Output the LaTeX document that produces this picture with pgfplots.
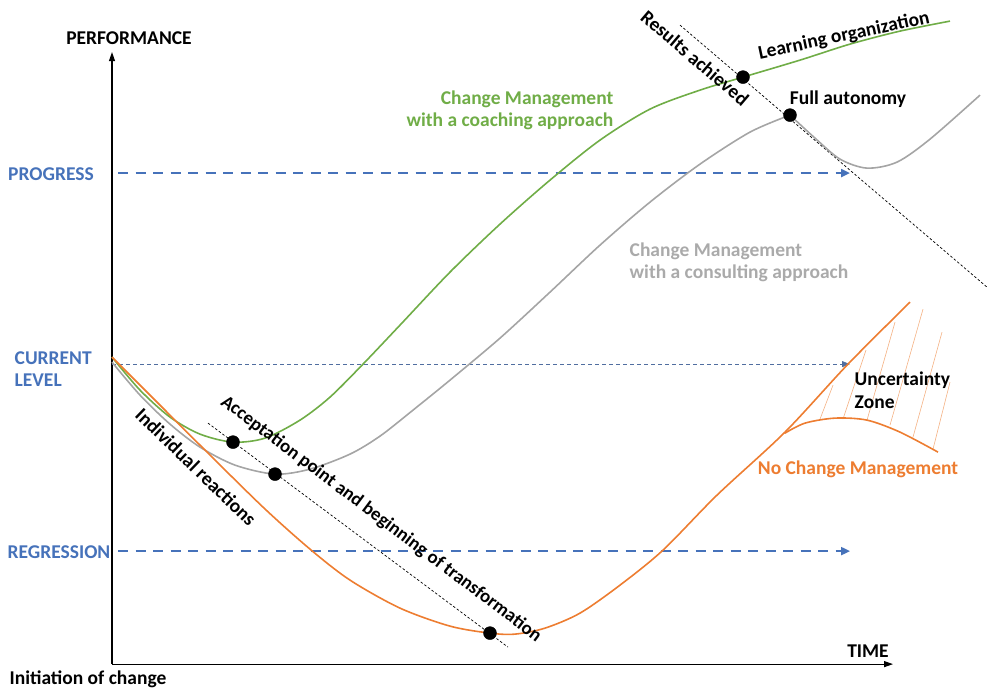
\documentclass[border=0pt]{standalone}
\usepackage{fontspec}
\setmainfont{Carlito}
\usepackage{pgfplots}
\pgfplotsset{compat=1.18}
\usetikzlibrary{arrows.meta}
\definecolor{cblue}{RGB}{70,114,186}
\definecolor{cthin}{RGB}{80,110,160}
\definecolor{cgreen}{RGB}{112,173,71}
\definecolor{cgray}{RGB}{165,165,165}
\definecolor{cgraytext}{RGB}{170,170,170}
\definecolor{corange}{RGB}{237,125,49}
\definecolor{chatch}{RGB}{244,177,131}
\begin{document}
\fontsize{19.5}{22.5}\selectfont\bfseries
\begin{tikzpicture}
\begin{axis}[width=998pt,height=690pt,scale only axis,
  xmin=0,xmax=998,ymin=0,ymax=690,y dir=reverse,
  hide axis, clip=false]
% frame for bounding box
\addplot[draw=none] coordinates {(0,0) (998,690)};
% axes
\addplot[black, line width=1.1pt, -{Triangle[length=9pt,width=6pt]}] coordinates {(112,662) (112,50)};
\addplot[black, line width=1.1pt, -{Triangle[length=9pt,width=6pt]}] coordinates {(112,662) (893,662)};
% level lines
\addplot[cblue, line width=2.6pt, dash pattern=on 10pt off 7.5pt, -{Triangle[length=9pt,width=8pt]}] coordinates {(118,171) (850,171)};
\addplot[cblue, line width=2.6pt, dash pattern=on 10pt off 7.5pt, -{Triangle[length=9pt,width=8pt]}] coordinates {(118,549) (850,549)};
\addplot[cthin, line width=0.8pt, dash pattern=on 4pt off 3pt, -{Triangle[length=8pt,width=6pt]}] coordinates {(112,362) (850,362)};
% dotted guide lines
\addplot[black, line width=0.7pt, dash pattern=on 2.5pt off 2pt] coordinates {(208,421) (508,645)};
\addplot[black, line width=0.7pt, dash pattern=on 2.5pt off 2pt] coordinates {(680,23) (987,285)};
% hatch lines
\addplot[chatch, line width=0.6pt] coordinates {(820,417) (833,383)};
\addplot[chatch, line width=0.6pt] coordinates {(843,417) (866,348)};
\addplot[chatch, line width=0.6pt] coordinates {(867,418) (895,320)};
\addplot[chatch, line width=0.6pt] coordinates {(890,423) (923,307)};
\addplot[chatch, line width=0.6pt] coordinates {(913,435) (942,330)};
\addplot[chatch, line width=0.6pt] coordinates {(933,447) (950,380)};
% green curve
\addplot[cgreen, line width=1.6pt, smooth, tension=0.5] coordinates {
(112,355) (140,388) (170,415) (200,432) (233,440) (265,436) (300,418) (330,395)
(363,362) (400,323) (450,270) (500,222) (550,178) (600,138) (650,107) (700,88)
(743,75) (800,58) (850,42) (900,29) (950,19)};
% gray curve
\addplot[cgray, line width=1.6pt, smooth, tension=0.5] coordinates {
(112,360) (140,393) (170,422) (200,445) (235,463) (275,472) (310,467) (350,452)
(380,434) (413,408) (450,378) (500,336) (550,290) (600,243) (650,200) (700,162)
(750,130) (790,113)};
\addplot[cgray, line width=1.6pt, smooth, tension=0.5] coordinates {
(790,113) (815,136) (840,157) (867,166) (897,160) (930,137) (980,93)};
% orange curve
\addplot[corange, line width=1.6pt, smooth, tension=0.5] coordinates {
(112,355) (160,403) (200,443) (263,505) (310,547) (350,578) (400,606) (450,624)
(490,631) (515,632) (545,626) (580,611) (620,583) (663,548) (717,493) (785,430)
(848,362) (910,300)};
\addplot[corange, line width=1.6pt, smooth, tension=0.5] coordinates {
(785,431) (805,421) (835,416) (867,418) (900,430) (938,450)};
% points
\addplot[only marks, mark=*, mark size=6.5pt, black] coordinates {
(233,440) (275,472) (490,631) (743,75) (790,113)};
% texts
\node at (129,36) {PERFORMANCE};
\node[cblue] at (51,172) {PROGRESS};
\node[cblue, anchor=west, align=left] at (8,367) {CURRENT\\LEVEL};
\node[cblue] at (59,550) {REGRESSION};
\node at (88,677) {Initiation of change};
\node at (868,649) {TIME};
\node at (848,97) {Full autonomy};
\node[cgreen, anchor=east, align=right] at (620,108) {Change Management\\with a coaching approach};
\node[cgraytext, anchor=west, align=left] at (623,260) {Change Management\\with a consulting approach};
\node[anchor=west, align=left] at (848,388) {Uncertainty\\Zone};
\node[corange] at (858,467) {No Change Management};
\node[rotate=-40.5] at (695,56) {Results achieved};
\node[rotate=12] at (844,34) {Learning organization};
\node[rotate=-44] at (196,465) {Individual reactions};
\node[rotate=-37, font=\fontsize{18.8}{22}\selectfont\bfseries] at (381,517) {Acceptation point and beginning of transformation};
\end{axis}
\end{tikzpicture}
\end{document}
